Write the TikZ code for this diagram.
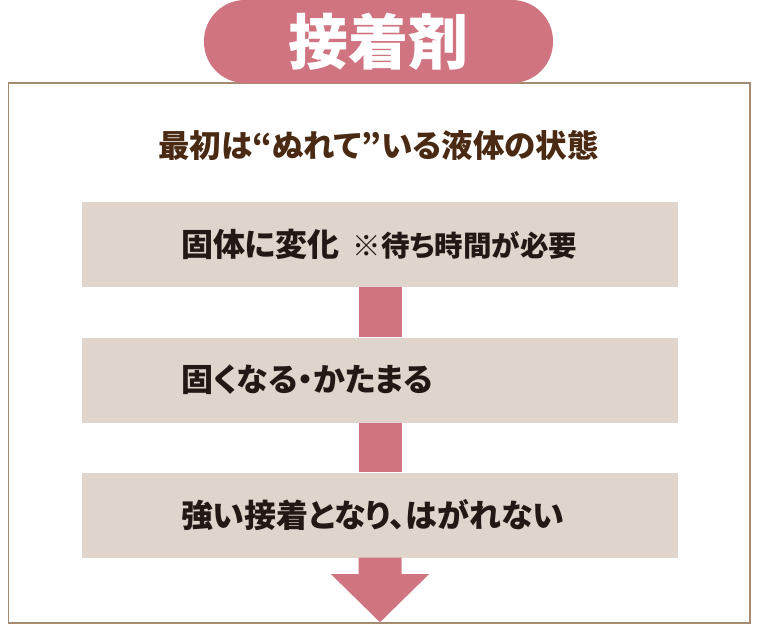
\documentclass[tikz,border=0pt]{standalone}
\usepackage{fontspec}
\setmainfont{Noto Sans CJK JP}[RawFeature=+palt]
\usepackage{tikz}
\usetikzlibrary{calc,positioning}
\usepackage{xcolor}
\definecolor{adpink}{HTML}{D07482}
\definecolor{adbeige}{HTML}{E0D5CC}
\definecolor{adframe}{HTML}{A58B6F}
\definecolor{adbrown}{HTML}{4A2A12}
\definecolor{adtext}{HTML}{231815}
\tikzset{
  frame/.style={line width=1.5pt, draw=adframe},
  titlepill/.style={fill=adpink, rounded corners=41pt, minimum width=349pt, minimum height=83pt, inner sep=0pt, text=white, font=\fontsize{60}{64}\selectfont\bfseries},
  headline/.style={inner sep=0pt, text=adbrown, font=\fontsize{31.5}{35}\selectfont\bfseries},
  stepbox/.style={fill=adbeige, minimum width=596pt, minimum height=85pt, inner sep=0pt},
  steptext/.style={inner sep=0pt, text=adtext, font=\fontsize{32}{36}\selectfont\bfseries},
  flow/.style={line width=43pt, draw=adpink},
  flowhead/.style={fill=adpink},
}

\begin{document}
\begin{tikzpicture}[x=1pt, y=-1pt]
  \useasboundingbox (0,0) rectangle (760,625);
  % Rahmen und Titel
  \draw[frame] (8.5,83) rectangle (750,623);
  \node[titlepill] (title) at (378.5,41.5) {接着剤};
  \node[headline] (liquid) at (378.5,145) {最初は“ぬれて”いる液体の状態};
  % drei Stufen
  \node[stepbox] (solid) at (380,244.5) {};
  \node[stepbox] (hard) at (380,380) {};
  \node[stepbox] (bond) at (380,515) {};
  \node[steptext, right=99pt of solid.west] (solidtext) {固体に変化\hspace{13pt}{\fontsize{28.5}{32}\selectfont ※待ち時間が必要}};
  \node[steptext, right=99pt of hard.west] (hardtext) {固くなる・かたまる};
  \node[steptext, right=99pt of bond.west] (bondtext) {強い接着となり、はがれない};
  % Pfeil
  \draw[flow] (solid.south) -- (hard.north);
  \draw[flow] (hard.south) -- (bond.north);
  \coordinate (tip) at ($(bond.south)+(0,64.5)$);
  \fill[flowhead] ($(bond.south)+(-21.5,0)$) -- ++(0,16.5) -- ++(-27.5,0) -- (tip)
    -- ++(49,-48) -- ++(-27.5,0) -- ++(0,-16.5) -- cycle;
\end{tikzpicture}
\end{document}
